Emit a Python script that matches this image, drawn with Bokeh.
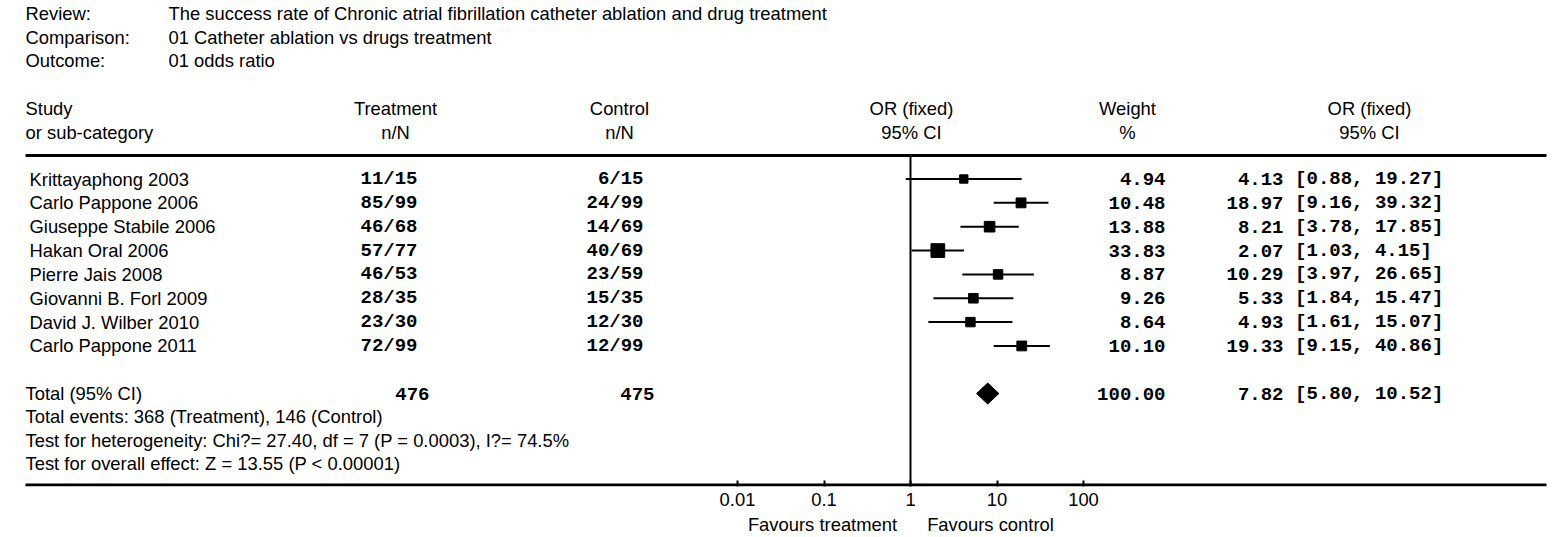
from bokeh.plotting import figure
from bokeh.models import Range1d, ColumnDataSource, LogAxis, FixedTicker
from bokeh.core.properties import value
from bokeh.embed import file_html
from bokeh.resources import INLINE

# ---------------- data ----------------
review_labels = ["Review:", "Comparison:", "Outcome:"]
review_values = [
    "The success rate of  Chronic atrial fibrillation catheter ablation and drug treatment",
    "01 Catheter ablation vs drugs treatment",
    "01 odds ratio",
]
studies = [
    "Krittayaphong 2003",
    "Carlo Pappone 2006",
    "Giuseppe Stabile 2006",
    "Hakan Oral 2006",
    "Pierre Jais 2008",
    "Giovanni B. Forl 2009",
    "David J. Wilber 2010",
    "Carlo Pappone 2011",
]
treat_n = [11, 85, 46, 57, 46, 28, 23, 72]
treat_N = [15, 99, 68, 77, 53, 35, 30, 99]
ctrl_n = [6, 24, 14, 40, 23, 15, 12, 12]
ctrl_N = [15, 99, 69, 69, 59, 35, 30, 99]
weights = [4.94, 10.48, 13.88, 33.83, 8.87, 9.26, 8.64, 10.10]
or_est = [4.13, 18.97, 8.21, 2.07, 10.29, 5.33, 4.93, 19.33]
or_lo = [0.88, 9.16, 3.78, 1.03, 3.97, 1.84, 1.61, 9.15]
or_hi = [19.27, 39.32, 17.85, 4.15, 26.65, 15.47, 15.07, 40.86]
total_label = "Total (95% CI)"
total_treat = 476
total_ctrl = 475
total_weight = 100.00
total_or = 7.82
total_lo = 5.80
total_hi = 10.52
summary_lines = [
    "Total events: 368 (Treatment), 146 (Control)",
    "Test for heterogeneity: Chi?= 27.40, df = 7 (P = 0.0003), I?= 74.5%",
    "Test for overall effect: Z = 13.55 (P < 0.00001)",
]
tick_values = [0.01, 0.1, 1, 10, 100]
tick_labels = ["0.01", "0.1", "1", "10", "100"]
favours_labels = ["Favours treatment", "Favours control"]

# ---------------- layout ----------------
W, H = 1559, 537
X_ONE = 910              # pixel of OR = 1
DEC = 86.5               # pixels per decade
FB = 486                 # frame bottom (pixel)

def lx(px):
    return 10 ** ((px - X_ONE) / DEC)

SANS = "Liberation Sans"
MONO = "Liberation Mono"
SANS_SIZE = "18.4px"
MONO_SIZE = "19px"
CH = 11.6  # mono char width

p = figure(width=W, height=H, x_axis_type="log",
           x_range=Range1d(lx(0), lx(W)), y_range=Range1d(FB, 0),
           toolbar_location=None, output_backend="svg", min_border=0,
           y_axis_location=None)
p.xgrid.visible = False
p.ygrid.visible = False
p.outline_line_color = None
p.background_fill_color = "white"
p.border_fill_color = "white"

ax = p.xaxis[0]
ax.ticker = FixedTicker(ticks=tick_values)
ax.major_label_overrides = dict(zip(tick_values, tick_labels))
ax.axis_line_color = None
ax.major_tick_in = 6
ax.major_tick_out = 0
ax.major_tick_line_width = 2
ax.major_tick_line_color = "black"
ax.minor_tick_line_color = None
ax.major_label_standoff = 6
ax.major_label_text_font = SANS
ax.major_label_text_font_size = SANS_SIZE
ax.major_label_text_color = "black"

fav_ticks = [lx(822), lx(990)]
ax2 = LogAxis(ticker=FixedTicker(ticks=fav_ticks),
              major_label_overrides=dict(zip(fav_ticks, favours_labels)))
ax2.axis_line_color = None
ax2.major_tick_line_color = None
ax2.minor_tick_line_color = None
ax2.major_tick_in = 0
ax2.major_tick_out = 0
ax2.major_label_standoff = 5
ax2.major_label_text_font = SANS
ax2.major_label_text_font_size = SANS_SIZE
ax2.major_label_text_color = "black"
p.add_layout(ax2, "below")


def txt(xs, ys, texts, font, size, align="left", style="normal"):
    src = ColumnDataSource(dict(x=xs, y=ys, text=texts))
    p.text("x", "y", "text", source=src, text_font=value(font),
           text_font_size=size, text_align=align, text_baseline="middle",
           text_color="black", text_font_style=style)


# header block
hdr_y = [13, 37, 60]
txt([lx(25)] * 3, hdr_y, review_labels, SANS, SANS_SIZE)
txt([lx(168)] * 3, hdr_y, review_values, SANS, SANS_SIZE)

# column headers
txt([lx(25), lx(25)], [108, 132], ["Study", "or sub-category"], SANS, SANS_SIZE)
col_cx = [395, 619, 911, 1127, 1369]
top_h = ["Treatment", "Control", "OR (fixed)", "Weight", "OR (fixed)"]
bot_h = ["n/N", "n/N", "95% CI", "%", "95% CI"]
txt([lx(c) for c in col_cx], [108] * 5, top_h, SANS, SANS_SIZE, "center")
txt([lx(c) for c in col_cx], [132] * 5, bot_h, SANS, SANS_SIZE, "center")

# rules
p.segment(x0=[lx(25), lx(25)], x1=[lx(1546), lx(1546)], y0=[155, FB - 1.5],
          y1=[155, FB - 1.5], line_width=3, line_color="black")
p.segment(x0=[1], x1=[1], y0=[155], y1=[FB], line_width=2, line_color="black")

# study rows
n = len(studies)
row_y = [178.5 + 23.85 * i for i in range(n)]
txt([lx(29)] * n, row_y, studies, SANS, SANS_SIZE)
txt([lx(417)] * n, row_y, [f"{a}/{b}" for a, b in zip(treat_n, treat_N)], MONO, MONO_SIZE, "right", "bold")
txt([lx(643)] * n, row_y, [f"{a}/{b}" for a, b in zip(ctrl_n, ctrl_N)], MONO, MONO_SIZE, "right", "bold")
txt([lx(1165)] * n, row_y, [f"{w:.2f}" for w in weights], MONO, MONO_SIZE, "right", "bold")
est_right = 1225 + 5 * CH
txt([lx(est_right)] * n, row_y, [f"{e:.2f}" for e in or_est], MONO, MONO_SIZE, "right", "bold")
txt([lx(est_right + CH)] * n, row_y, [f"[{a:.2f}, {b:.2f}]" for a, b in zip(or_lo, or_hi)], MONO, MONO_SIZE, "left", "bold")

p.segment(x0=or_lo, x1=or_hi, y0=row_y, y1=row_y, line_width=2, line_color="black")
sizes = [5 + 1.5 * w ** 0.5 for w in weights]
p.scatter(x=or_est, y=row_y, size=sizes, marker="square", color="black")

# total row
ty = 393
txt([lx(25)], [ty], [total_label], SANS, SANS_SIZE)
txt([lx(429)], [ty], [str(total_treat)], MONO, MONO_SIZE, "right", "bold")
txt([lx(654)], [ty], [str(total_ctrl)], MONO, MONO_SIZE, "right", "bold")
txt([lx(1165)], [ty], [f"{total_weight:.2f}"], MONO, MONO_SIZE, "right", "bold")
txt([lx(est_right)], [ty], [f"{total_or:.2f}"], MONO, MONO_SIZE, "right", "bold")
txt([lx(est_right + CH)], [ty], [f"[{total_lo:.2f}, {total_hi:.2f}]"], MONO, MONO_SIZE, "left", "bold")
p.patch(x=[total_lo, total_or, total_hi, total_or], y=[ty, ty - 10.5, ty, ty + 10.5],
        color="black")

# summary lines
txt([lx(25)] * 3, [416, 440, 463], summary_lines, SANS, SANS_SIZE)

open("out.html", "w").write(file_html(p, INLINE))
